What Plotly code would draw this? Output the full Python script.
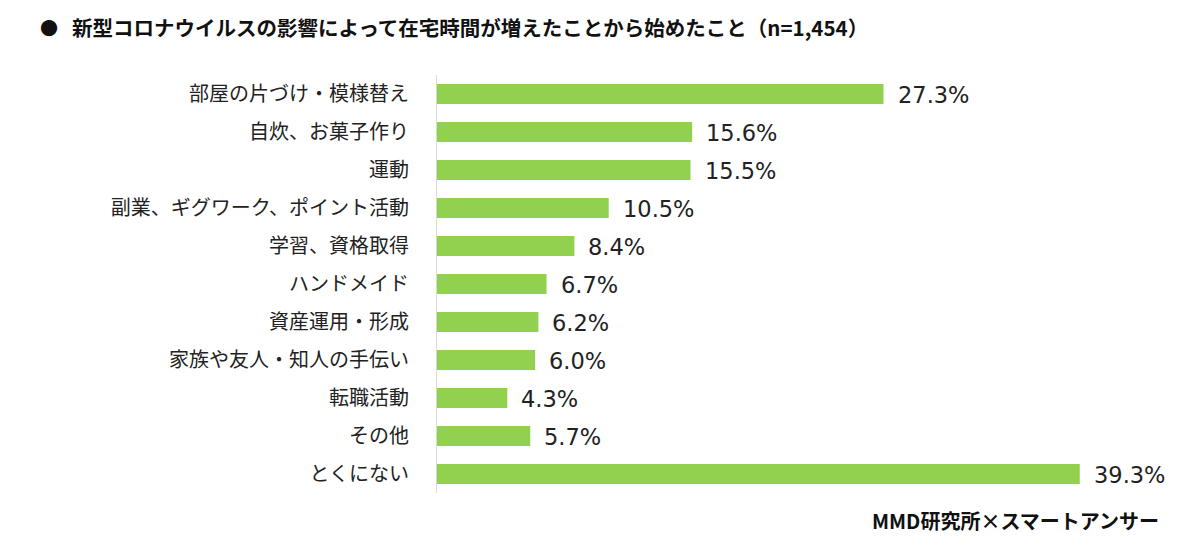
import plotly.graph_objects as go

categories = ["部屋の片づけ・模様替え", "自炊、お菓子作り", "運動", "副業、ギグワーク、ポイント活動",
              "学習、資格取得", "ハンドメイド", "資産運用・形成", "家族や友人・知人の手伝い",
              "転職活動", "その他", "とくにない"]
values = [27.3, 15.6, 15.5, 10.5, 8.4, 6.7, 6.2, 6.0, 4.3, 5.7, 39.3]
value_labels = [f"{v:.1f}%" for v in values]

title_bullet = "●"
title_text = "新型コロナウイルスの影響によって在宅時間が増えたことから始めたこと（n=1,454）"
source_text = "MMD研究所×スマートアンサー"

FONT = "Noto Sans CJK JP"
NUMFONT = "DejaVu Sans"
GREEN = "#92D050"

fig = go.Figure()
fig.add_trace(go.Bar(
    x=values, y=categories, orientation="h",
    marker=dict(color=GREEN, line=dict(width=0)),
    width=0.53, hoverinfo="skip",
))

for c, v, t in zip(categories, values, value_labels):
    fig.add_annotation(x=v, y=c, text=t, showarrow=False, xanchor="left",
                       xshift=12, yshift=-1,
                       font=dict(family=NUMFONT, size=22.5, color="#222222"))

PW = 1200 - 437 - 27
fig.add_annotation(xref="paper", yref="paper", x=(38 - 437) / PW, y=1.0, yshift=48,
                   text=title_bullet, showarrow=False, xanchor="left", yanchor="middle",
                   font=dict(family=FONT, size=18, color="#111111"))
fig.add_annotation(xref="paper", yref="paper", x=(70 - 437) / PW, y=1.0, yshift=48,
                   text=title_text, showarrow=False, xanchor="left", yanchor="middle",
                   font=dict(family=FONT, size=20.5, color="#111111", weight="bold"))
fig.add_annotation(xref="paper", yref="paper", x=(1161 - 437) / PW, y=0, yshift=-27,
                   text=source_text, showarrow=False, xanchor="right", yanchor="middle",
                   font=dict(family=FONT, size=20, color="#111111", weight="bold"))

fig.update_layout(
    width=1200, height=547,
    margin=dict(l=437, r=27, t=75, b=54),
    paper_bgcolor="white", plot_bgcolor="white",
    showlegend=False,
    xaxis=dict(range=[0, 45], visible=False, fixedrange=True),
    yaxis=dict(autorange="reversed", showline=True, linecolor="#d9d9d9", linewidth=1,
               ticks="", ticklabelstandoff=23,
               tickfont=dict(family=FONT, size=20, color="#222222"), fixedrange=True),
)

fig.write_html("out.html", config={"displayModeBar": False},
               post_script="document.body.style.margin='0';document.body.style.overflow='hidden';")
